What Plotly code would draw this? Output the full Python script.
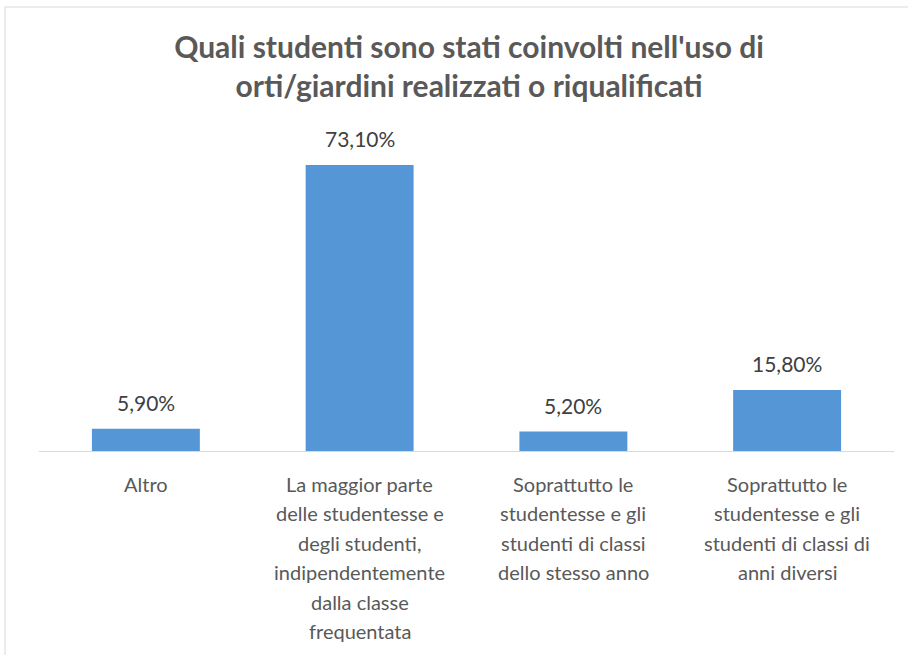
import plotly.graph_objects as go

category_lines = [
    ["Altro"],
    ["La maggior parte", "delle studentesse e", "degli studenti,", "indipendentemente",
     "dalla classe", "frequentata"],
    ["Soprattutto le", "studentesse e gli", "studenti di classi", "dello stesso anno"],
    ["Soprattutto le", "studentesse e gli", "studenti di classi di", "anni diversi"],
]
values = [5.9, 73.1, 5.2, 15.8]
value_labels = ["5,90%", "73,10%", "5,20%", "15,80%"]
title_lines = ["Quali studenti sono stati coinvolti nell'uso di",
               "orti/giardini realizzati o riqualificati"]

FONT = "Lato"
fig = go.Figure()
fig.add_trace(go.Bar(
    x=list(range(len(values))), y=values,
    marker=dict(color="#5596D6", line=dict(width=0)),
    width=0.505, hoverinfo="skip"))

for i, (v, t) in enumerate(zip(values, value_labels)):
    fig.add_annotation(x=i, y=v, text=t, showarrow=False, yanchor="bottom",
                       yshift=12, font=dict(family=FONT, size=21, color="#404040"))

for i, lines in enumerate(category_lines):
    for k, line in enumerate(lines):
        fig.add_annotation(x=i, y=0, xref="x", yref="paper", text=line, showarrow=False,
                           yanchor="middle", yshift=-32 - k * 29.4,
                           font=dict(family=FONT, size=20, color="#595959"))

# chart frame
fig.add_shape(type="rect", xref="paper", yref="paper",
              x0=(5 - 39) / 855, x1=1.2, y0=-1.0, y1=(452 - 7) / 314,
              line=dict(color="#D9D9D9", width=1), fillcolor="rgba(0,0,0,0)", layer="below")
# baseline
fig.add_shape(type="line", xref="paper", yref="y", x0=0, x1=1, y0=0, y1=0,
              line=dict(color="#D9D9D9", width=2))

fig.update_layout(
    width=908, height=655,
    margin=dict(l=39, r=14, t=138, b=203, autoexpand=False),
    paper_bgcolor="white", plot_bgcolor="white",
    showlegend=False,
    title=dict(text="<b>" + "<br>".join(title_lines) + "</b>",
               x=469 / 908, xanchor="center", xref="container",
               y=1 - 58 / 655, yanchor="top", yref="container",
               font=dict(family=FONT, size=30, color="#595959")),
    xaxis=dict(range=[-0.5, 3.5], showticklabels=False, showgrid=False,
               zeroline=False, showline=False, fixedrange=True),
    yaxis=dict(range=[0, 80], visible=False, showgrid=False, zeroline=False),
    bargap=0.495,
)
fig.write_html("out.html", config={"displayModeBar": False},
               post_script="document.body.style.margin='0';document.body.style.overflow='hidden';")
